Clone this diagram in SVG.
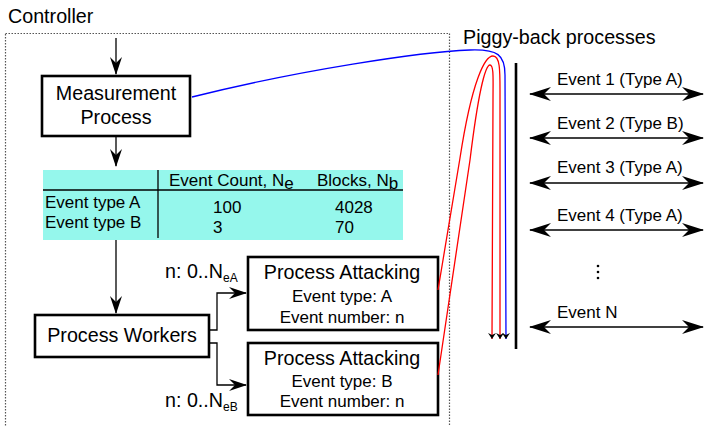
<svg xmlns="http://www.w3.org/2000/svg" width="705" height="426" viewBox="0 0 705 426">
<defs>
<style>
text{font-family:"Liberation Sans",Arial,sans-serif;fill:#000}
.big{font-size:19.7px}
.mid{font-size:19.7px}
.sm{font-size:17px}
.box{fill:#fff;stroke:#000;stroke-width:2.6}
.ln{fill:none;stroke:#000;stroke-width:1.3}
.red{fill:none;stroke:#f00;stroke-width:1.3}
.blue{fill:none;stroke:#00f;stroke-width:1.3}
</style>
<marker id="ah" viewBox="0 0 18 12" refX="17" refY="6" markerWidth="18" markerHeight="12" markerUnits="userSpaceOnUse" orient="auto-start-reverse">
<path d="M0,0 L18,6 L0,12 L6,6 Z" fill="#000"/>
</marker>
<marker id="dh" viewBox="0 0 22 14" refX="21" refY="7" markerWidth="22" markerHeight="14" markerUnits="userSpaceOnUse" orient="auto-start-reverse">
<path d="M0,0 L22,7 L0,14 L7,7 Z" fill="#000"/>
</marker>
<marker id="sh" viewBox="0 0 6 8" refX="6" refY="4" markerWidth="6" markerHeight="8" markerUnits="userSpaceOnUse" orient="auto">
<path d="M0,0 L6,4 L0,8 L2,4 Z" fill="#000"/>
</marker>
</defs>
<rect width="705" height="426" fill="#fff"/>

<g id="controller">
<rect x="5.5" y="33.5" width="444" height="400" fill="none" stroke="#555" stroke-width="1.2" stroke-dasharray="1.5,1.5"/>
<text x="8" y="23" class="mid">Controller</text>
</g>

<g id="measurement">
<rect x="42" y="76" width="148" height="60" class="box"/>
<text x="116" y="100" class="big" text-anchor="middle">Measurement</text>
<text x="116" y="124" class="big" text-anchor="middle">Process</text>
</g>

<g id="table">
<rect x="43" y="170" width="360" height="70" fill="#95f7ec"/>
<line x1="158" y1="170" x2="158" y2="238" stroke="#000" stroke-width="1.3"/>
<line x1="43" y1="190" x2="403" y2="190" stroke="#000" stroke-width="1.3"/>
<text x="169" y="186" class="sm">Event Count, N<tspan dy="3">e</tspan></text>
<text x="317" y="186" class="sm">Blocks, N<tspan dy="3">b</tspan></text>
<text x="45" y="208" class="sm">Event type A</text>
<text x="45" y="228" class="sm">Event type B</text>
<text x="213" y="213" class="sm">100</text>
<text x="213" y="233" class="sm">3</text>
<text x="335" y="213" class="sm">4028</text>
<text x="335" y="233" class="sm">70</text>
</g>

<g id="workers">
<rect x="35" y="315" width="174" height="42" class="box"/>
<text x="122" y="342" class="big" text-anchor="middle">Process Workers</text>
</g>

<g id="attackA">
<rect x="248" y="257" width="190" height="73" class="box"/>
<text x="342" y="279" class="big" text-anchor="middle">Process Attacking</text>
<text x="342" y="302" class="sm" text-anchor="middle">Event type: A</text>
<text x="342" y="323" class="sm" text-anchor="middle">Event number: n</text>
</g>

<g id="attackB">
<rect x="248" y="343" width="190" height="72" class="box"/>
<text x="342" y="365" class="big" text-anchor="middle">Process Attacking</text>
<text x="342" y="387" class="sm" text-anchor="middle">Event type: B</text>
<text x="342" y="407" class="sm" text-anchor="middle">Event number: n</text>
</g>

<g id="piggyback">
<text x="463" y="44" class="mid">Piggy-back processes</text>
<line x1="516" y1="63" x2="516" y2="349" stroke="#000" stroke-width="2.6"/>
<text x="557" y="85" class="sm">Event 1 (Type A)</text>
<text x="557" y="129" class="sm">Event 2 (Type B)</text>
<text x="557" y="173" class="sm">Event 3 (Type A)</text>
<text x="557" y="221" class="sm">Event 4 (Type A)</text>
<text x="557" y="318" class="sm">Event N</text>
<circle cx="598" cy="266" r="1.3" fill="#000"/>
<circle cx="598" cy="272" r="1.3" fill="#000"/>
<circle cx="598" cy="278" r="1.3" fill="#000"/>
</g>

<g id="connectors">
<line x1="116" y1="38" x2="116" y2="74" class="ln" marker-end="url(#ah)"/>
<line x1="116" y1="136" x2="116" y2="166" class="ln" marker-end="url(#ah)"/>
<line x1="116" y1="240" x2="116" y2="313" class="ln" marker-end="url(#ah)"/>
<polyline points="209,330 217,330 217,293 246,293" class="ln" marker-end="url(#ah)"/>
<polyline points="209,343 217,343 217,385 246,385" class="ln" marker-end="url(#ah)"/>
<text x="165" y="278" class="mid" font-size="19">n: 0..N<tspan dy="4" font-size="12">eA</tspan></text>
<text x="165" y="407" class="mid" font-size="19">n: 0..N<tspan dy="4" font-size="12">eB</tspan></text>

<line x1="530" y1="94" x2="703" y2="94" class="ln" marker-start="url(#dh)" marker-end="url(#dh)"/>
<line x1="530" y1="138" x2="703" y2="138" class="ln" marker-start="url(#dh)" marker-end="url(#dh)"/>
<line x1="530" y1="183" x2="703" y2="183" class="ln" marker-start="url(#dh)" marker-end="url(#dh)"/>
<line x1="530" y1="230" x2="703" y2="230" class="ln" marker-start="url(#dh)" marker-end="url(#dh)"/>
<line x1="530" y1="327" x2="703" y2="327" class="ln" marker-start="url(#dh)" marker-end="url(#dh)"/>

<path d="M192,97 C300,70 420,52 470,50 C498,49 505,55 505,75 L506,339" class="blue" marker-end="url(#sh)"/>
<path d="M438,290 L460,158 C472,80 485,56 493,56 C500,56 500,70 500,90 L500,339" class="red" marker-end="url(#sh)"/>
<path d="M438,375 L470,160 C478,95 485,65 490,65 C494,65 493,80 493,100 L492,339" class="red" marker-end="url(#sh)"/>
</g>
</svg>
